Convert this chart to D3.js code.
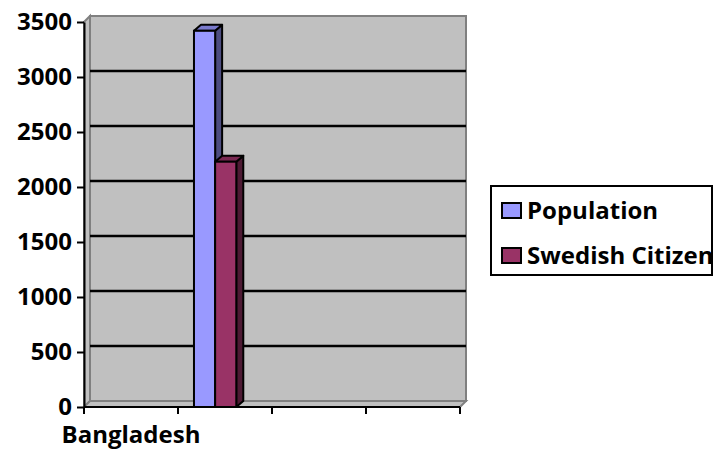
<!DOCTYPE html>
<html>
<head>
<meta charset="utf-8">
<script src="https://cdn.jsdelivr.net/npm/d3@7"></script>
<style>
  body { margin: 0; background: #fff; }
  text { font-family: "Open Sans", Lato, sans-serif; font-weight: bold; fill: #000; }
</style>
</head>
<body>
<div class="chart"></div>
<script>
// data
const categories = ["Bangladesh", "", "", ""];
const seriesNames = ["Population", "Swedish Citizen"];
const population = [null, 3420, null, null];
const swedishCitizen = [null, 2230, null, null];
const yTicks = [0, 500, 1000, 1500, 2000, 2500, 3000, 3500];

const width = 714;
const height = 454;

// plot area (front plane)
const plotLeft = 84, plotRight = 460, plotTop = 22, plotBottom = 407;
// 3d depth of the walls and the bars
const wdx = 6, wdy = -6;
const bdx = 7, bdy = -6;

const colors = {
  "Population": { front: "#9999ff", side: "#4d4d80", top: "#7a7acc" },
  "Swedish Citizen": { front: "#993366", side: "#4d1a33", top: "#7a2952" }
};

const svg = d3.select('.chart').append('svg')
  .attr('width', width)
  .attr('height', height);

const x = d3.scaleBand()
  .domain(d3.range(categories.length))
  .range([plotLeft, plotRight]);

const x1 = d3.scaleBand()
  .domain(seriesNames)
  .range([x.bandwidth() * 0.17, x.bandwidth() * 0.62]);

const y = d3.scaleLinear()
  .domain([0, 3500])
  .range([plotBottom, plotTop]);

// side wall
svg.append('polygon')
  .attr('points', [[plotLeft, plotTop], [plotLeft + wdx, plotTop + wdy], [plotLeft + wdx, plotBottom + wdy], [plotLeft, plotBottom]].join(' '))
  .attr('fill', '#c0c0c0')
  .attr('stroke', '#808080')
  .attr('stroke-width', 2);

// floor
svg.append('polygon')
  .attr('points', [[plotLeft, plotBottom], [plotLeft + wdx, plotBottom + wdy], [plotRight + wdx, plotBottom + wdy], [plotRight, plotBottom]].join(' '))
  .attr('fill', '#c0c0c0')
  .attr('stroke', '#808080')
  .attr('stroke-width', 2);

// back wall
svg.append('rect')
  .attr('x', plotLeft + wdx)
  .attr('y', plotTop + wdy)
  .attr('width', plotRight - plotLeft)
  .attr('height', plotBottom - plotTop)
  .attr('fill', '#c0c0c0')
  .attr('stroke', '#808080')
  .attr('stroke-width', 2);

// gridlines on the back wall
svg.selectAll('.grid')
  .data(yTicks.filter(d => d > 0 && d < 3500))
  .enter().append('line')
  .attr('x1', plotLeft + wdx)
  .attr('x2', plotRight + wdx)
  .attr('y1', d => y(d) + wdy)
  .attr('y2', d => y(d) + wdy)
  .attr('stroke', '#000')
  .attr('stroke-width', 2.5);

// bars
seriesNames.forEach((name, si) => {
  const values = si === 0 ? population : swedishCitizen;
  const c = colors[name];
  const bars = svg.selectAll('.bar' + si)
    .data(values.map((v, i) => ({ i, v })).filter(d => d.v != null))
    .enter().append('g');

  const bw = x1.bandwidth();
  const x0 = d => x(d.i) + x1(name);

  bars.append('polygon')
    .attr('points', d => [[x0(d) + bw, y(d.v)], [x0(d) + bw + bdx, y(d.v) + bdy],
      [x0(d) + bw + bdx, y(0) + bdy], [x0(d) + bw, y(0)]].join(' '))
    .attr('fill', c.side)
    .attr('stroke', '#000')
    .attr('stroke-width', 2)
    .attr('stroke-linejoin', 'round');

  bars.append('polygon')
    .attr('points', d => [[x0(d), y(d.v)], [x0(d) + bdx, y(d.v) + bdy],
      [x0(d) + bw + bdx, y(d.v) + bdy], [x0(d) + bw, y(d.v)]].join(' '))
    .attr('fill', c.top)
    .attr('stroke', '#000')
    .attr('stroke-width', 2)
    .attr('stroke-linejoin', 'round');

  bars.append('rect')
    .attr('x', x0)
    .attr('y', d => y(d.v))
    .attr('width', bw)
    .attr('height', d => y(0) - y(d.v))
    .attr('fill', c.front)
    .attr('stroke', '#000')
    .attr('stroke-width', 2);
});

// y axis
const yAxis = svg.append('g')
  .attr('transform', 'translate(' + plotLeft + ',0)')
  .call(d3.axisLeft(y).tickValues(yTicks).tickFormat(d3.format('d'))
    .tickSize(7).tickPadding(5).tickSizeOuter(0));
yAxis.select('.domain').attr('stroke', '#000').attr('stroke-width', 2);
yAxis.selectAll('.tick line').attr('stroke', '#000').attr('stroke-width', 2);
yAxis.selectAll('text')
  .style('font-size', '24px')
  .style('font-family', '"Open Sans"')
  .style('font-weight', 'bold');

// x axis: ticks on band edges, labels in band centres
const xAxis = svg.append('g')
  .attr('transform', 'translate(0,' + plotBottom + ')');
xAxis.append('line')
  .attr('x1', plotLeft).attr('x2', plotRight)
  .attr('stroke', '#000').attr('stroke-width', 2);
xAxis.selectAll('.xtick')
  .data(d3.range(categories.length + 1))
  .enter().append('line')
  .attr('x1', i => plotLeft + i * x.step())
  .attr('x2', i => plotLeft + i * x.step())
  .attr('y1', 0).attr('y2', 7)
  .attr('stroke', '#000').attr('stroke-width', 2);
xAxis.selectAll('.xlabel')
  .data(categories)
  .enter().append('text')
  .attr('x', (d, i) => x(i) + x.bandwidth() / 2)
  .attr('y', 36)
  .attr('text-anchor', 'middle')
  .style('font-size', '24px')
  .text(d => d);

// legend
const legend = svg.append('g');
legend.append('rect')
  .attr('x', 491).attr('y', 186)
  .attr('width', 221).attr('height', 89)
  .attr('fill', '#fff')
  .attr('stroke', '#000')
  .attr('stroke-width', 2);

const items = legend.selectAll('.legend')
  .data(seriesNames)
  .enter().append('g')
  .attr('transform', (d, i) => 'translate(502,' + (203 + i * 45) + ')');
items.append('rect')
  .attr('width', 19).attr('height', 15)
  .attr('fill', d => colors[d].front)
  .attr('stroke', '#000')
  .attr('stroke-width', 2);
items.append('text')
  .attr('x', 25)
  .attr('y', 16)
  .style('font-size', '24px')
  .text(d => d);
</script>
</body>
</html>
